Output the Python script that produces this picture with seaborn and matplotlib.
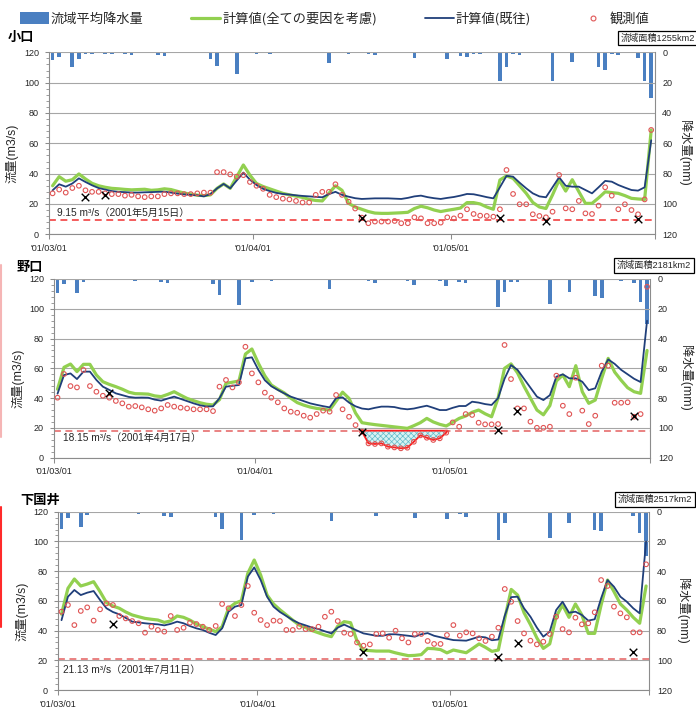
import numpy as np
import pandas as pd
import matplotlib
matplotlib.use("Agg")
import matplotlib.pyplot as plt
import matplotlib.transforms as mtransforms
from matplotlib.lines import Line2D
from matplotlib.patches import Patch
from matplotlib.ticker import MultipleLocator
import seaborn as sns

sns.set_style("white")
plt.rcParams['font.family'] = ['Liberation Sans', 'Noto Sans CJK JP', 'DejaVu Sans']
plt.rcParams['hatch.linewidth'] = 0.5
JP = ['Noto Sans CJK JP', 'DejaVu Sans']

# ---------------- data ----------------
start = pd.Timestamp('2001-03-01')
dates = pd.date_range(start, '2001-05-31', freq='D')
tick_dates = ['2001-03-01', '2001-04-01', '2001-05-01']
tick_labels = ["'01/03/01", "'01/04/01", "'01/05/01"]
legend_labels = ['流域平均降水量', '計算値(全ての要因を考慮)', '計算値(既往)', '観測値']

# 小口
rain_koguchi = [5, 3, 0, 10, 4.4, 1, 1, 0.5, 1, 1,
                0, 1, 2, 0, 0.7, 0, 2, 2.4, 0, 0,
                0, 0.5, 0, 0, 4.4, 9, 0.7, 0, 14.5, 0.5,
                0, 1, 0, 1, 0, 0, 0, 0, 0, 0,
                0, 0, 7.3, 0.5, 0, 1, 0, 0, 1, 1.8,
                0, 0, 0, 0, 0.5, 4, 0, 0, 0, 0.5,
                4.6, 0, 2.4, 2.9, 1, 1, 0, 0.5, 18.7, 10,
                1, 1.5, 0, 0, 0, 0.5, 18.7, 0.5, 0.5, 6.2,
                0, 0, 0.5, 10, 11.6, 1, 1.5, 0.5, 0, 4,
                18.7, 30.3]
calc_all_koguchi = [32, 38, 35, 36, 39.8, 36.5, 33.6, 32, 31, 30.3,
                    30, 29.6, 29.3, 29.5, 29.7, 29, 29.3, 30, 29.5, 28.3,
                    27.2, 26.5, 25.8, 25.5, 26, 30.3, 33.2, 30.3, 38, 45.7,
                    39, 33.5, 31.5, 30, 28.5, 27, 26, 25.2, 24.3, 23,
                    22.3, 22, 27, 32, 29, 20.4, 18, 16.5, 15, 14,
                    13.8, 13.8, 14, 14.2, 14.5, 17, 18.5, 17.5, 16, 15,
                    15.8, 16.5, 17.3, 20.9, 20.9, 20, 18, 16.5, 35.8, 38.5,
                    36.9, 32, 27, 21, 18, 17, 26, 35.8, 28.5, 36,
                    28.1, 20.4, 20.4, 24, 28, 27.5, 27, 25.5, 23.7, 23.3,
                    23, 68.8]
calc_old_koguchi = [29, 33, 31.4, 33.5, 36.9, 34.5, 32.3, 30.5, 29.5, 28.5,
                    28, 27.8, 27.5, 27.5, 27.7, 27.8, 28, 28.1, 27.5, 26.8,
                    26.3, 26, 25.7, 25, 26.5, 30.3, 33.2, 30.3, 35.5, 40.7,
                    36, 32.5, 30, 28.5, 27.3, 26.6, 26.2, 25.7, 25.3, 25,
                    24.7, 24.4, 26.5, 28, 26, 24.8, 23.8, 23.3, 23.5, 23.7,
                    23.7, 23.7, 23.5, 23.3, 24, 25, 25.5, 24.5, 23.8, 23.3,
                    24, 24.6, 25.5, 26.6, 26.4, 25.5, 24.5, 23.7, 31, 38.5,
                    38, 34, 30.3, 27, 25, 24.4, 31, 37.6, 32, 31.4,
                    31.4, 29.2, 27, 31, 35.2, 34.7, 32.5, 30.8, 29.2, 28.8,
                    31, 62]
obs_koguchi = [27, 29.5, 27.5, 30.5, 32, 29, 28, 28, 27, 26.5,
               26.5, 25.5, 26, 25, 24.5, 25, 25, 26.5, 27, 27,
               26.5, 26.5, 27, 27.5, 27.5, 41, 41, 39.5, 38, 39,
               34.5, 32, 30, 26, 24.5, 23.5, 23, 22, 21, 21,
               26, 28, 28, 33, 26, 21.5, 17, 11, 7.3, 8.4,
               8.4, 8.4, 8.8, 7.3, 7.3, 11.2, 10.5, 7.3, 7.3, 7.7,
               11.2, 10.5, 12.3, 16.5, 13.4, 12.3, 12.1, 11.6, 16.5, 42.4,
               26.6, 19.8, 19.8, 13.2, 12.1, 11.2, 14.9, 39.1, 17.1, 16.5,
               22, 13.8, 13.4, 18.9, 31, 25.5, 16.5, 19.8, 16, 13.2,
               23, 68.8]
cross_day_koguchi = [5, 8, 47, 68, 75, 89]
cross_val_koguchi = [24.8, 25.9, 11, 11, 8.8, 10.1]
thr_koguchi = 9.15

# 野口
rain_noguchi = [9.6, 3.6, 0.7, 9.6, 2.2, 0.7, 0.5, 0.7, 0.5, 0.5,
                0, 0.7, 1.3, 0, 0.5, 0, 2.2, 2.7, 0, 0,
                0, 0.5, 0, 0, 3.4, 10.5, 0.5, 0, 17.5, 0.5,
                1.8, 0.5, 0, 1.1, 0, 0, 0, 0, 0, 0,
                0, 0, 6.7, 0.7, 0, 0.7, 0, 0, 1.1, 2.5,
                0, 0, 0.7, 0, 1.1, 4, 0, 0, 0, 1.1,
                4.5, 0, 2.2, 2.9, 0.7, 0.7, 0, 0.7, 19, 8.5,
                1.8, 1.8, 0.7, 0, 0, 0.7, 16.8, 0.7, 0.7, 8.5,
                0.7, 0, 0.7, 11.4, 12.5, 0.7, 0.7, 1.1, 0.7, 2.9,
                15.2, 30.2]
calc_all_noguchi = [46, 60.7, 62.9, 57.8, 62.7, 62.7, 55.5, 51, 49.2, 47.7,
                    46, 44, 43, 42.9, 42.7, 41.5, 41, 42.5, 44.3, 42,
                    39.8, 38.3, 36.9, 35.9, 35.4, 39, 49.9, 50.7, 51.5, 69.6,
                    73, 63.4, 55, 48.8, 46, 43.5, 40, 37, 35.3, 34,
                    33.1, 32.6, 32, 38, 44, 39.8, 30, 23.5, 22.8, 22.2,
                    21.7, 21.2, 20.7, 20.2, 19.7, 21.5, 23.5, 26.4, 24, 22.4,
                    21.3, 23.8, 26.4, 28, 30.5, 32, 29.5, 27.5, 40, 60,
                    63, 57, 48, 40, 32, 28.8, 35, 51.5, 55.5, 47.7,
                    61.8, 44.3, 36.5, 38.7, 53.3, 66.7, 57.5, 52, 47, 44.3,
                    43.2, 72]
calc_old_noguchi = [43, 55.5, 56.6, 52.8, 57.8, 57.8, 52.2, 47.7, 45.5, 43.2,
                    42, 40.8, 40.3, 40.4, 40.3, 39, 38.3, 39.7, 41, 39.5,
                    38, 36.5, 35.2, 34.4, 34.5, 40, 47.7, 48.3, 48.8, 66.7,
                    67.4, 59, 52, 48, 45.5, 43.2, 41, 39.5, 38, 36.5,
                    35.5, 34.6, 33.8, 40, 40.5, 37, 34.5, 33, 32.5, 33.5,
                    34.3, 34.3, 34, 33, 32.5, 33, 34, 34.9, 33.5, 32,
                    32, 33.5, 34.7, 34.7, 37.6, 37, 36, 35.4, 40, 53,
                    62.2, 59, 53, 47, 41, 38.7, 42, 54.4, 56, 53.3,
                    53.3, 51, 45.4, 46.6, 57.8, 66, 63, 59, 56, 53,
                    50.8, 92]
obs_noguchi = [40.3, 56.2, 48.1, 47.2, 58.9, 48.1, 44.3, 41.6, 40.3, 38.1,
               36.5, 34.3, 34.7, 33.8, 32.5, 31.6, 33.1, 35.4, 34.3, 33.6,
               33.1, 32.5, 32.5, 32.5, 31.3, 47.7, 52.2, 47.2, 50.6, 74.5,
               56.6, 50.6, 43.7, 40.3, 37.2, 33.1, 30.9, 30.2, 28.2, 26.9,
               29.3, 31.6, 30.9, 42.1, 32.5, 27.5, 21.9, 17.5, 9.6, 9.2,
               9.6, 7.4, 6.9, 6.3, 6.7, 10.7, 15, 13.4, 11.9, 13,
               16.8, 23.7, 20.8, 29.3, 28.7, 23.5, 22.4, 22.4, 22.6, 75.7,
               52.8, 33.1, 33.1, 24.2, 20.1, 20.1, 20.8, 55.1, 34.9, 29.3,
               53.7, 31.6, 22.6, 28.2, 61.8, 61.8, 36.9, 36.9, 37.2, 27.5,
               29.3, 114.8]
cross_day_noguchi = [8, 47, 68, 71, 89]
cross_val_noguchi = [43.2, 17.5, 18.6, 31.3, 28.2]
thr_noguchi = 18.15

# 下国井
rain_shimo = [11.9, 4, 0.7, 10.5, 2.5, 1.1, 1.1, 1.1, 1.1, 0.7,
              0, 1.1, 1.8, 0, 0.7, 0, 2.7, 3.4, 0, 0,
              0, 0.7, 0, 0, 3.8, 11.9, 0.7, 0, 19, 0.5,
              2.5, 0.7, 0, 1.8, 0, 0, 0, 0, 0, 0,
              0, 0, 6, 0.7, 0, 0.7, 0, 0, 0.7, 2.7,
              0, 0, 0.7, 0, 0.7, 4, 0, 0, 0, 0.7,
              5.2, 0, 1.8, 3.4, 1.1, 1.1, 0, 1.1, 19, 7.9,
              1.1, 1.1, 0.7, 0, 0, 0.7, 17.9, 0.7, 0.7, 7.9,
              0.7, 0, 0.7, 12.3, 12.8, 0.7, 0.7, 1.1, 0.7, 2.9,
              14.6, 29.8]
calc_all_shimo = [51, 68.4, 74.7, 70, 71.3, 72.9, 66.2, 58.8, 56.5, 55,
                  52.5, 50.5, 49.3, 48.2, 47.6, 47.1, 45.5, 46.5, 49.8, 48.9,
                  47, 44.5, 42.6, 41, 39.3, 42.6, 55, 58.3, 60.1, 78.5,
                  87.5, 77.4, 63.9, 57.9, 54, 50.5, 47, 43.7, 42, 40,
                  38.5, 37, 35.9, 43, 46, 45.3, 33, 26.9, 26.5, 26.2,
                  26.2, 26.2, 25, 24, 23.1, 23.3, 23.8, 28, 27.8, 27.2,
                  25, 26.9, 26, 25.1, 28, 31, 28.7, 26, 26.9, 48,
                  67.7, 63.9, 52, 44, 35, 28, 31, 49.3, 57.2, 48.9,
                  57.9, 50.5, 38.1, 38.1, 57.2, 74, 66.2, 57.9, 53.8, 48.9,
                  44.9, 70]
calc_old_shimo = [47, 62.8, 67.3, 63.9, 65.5, 66.6, 60.6, 55, 52.5, 50.9,
                  48.5, 46, 45.5, 44.9, 44.5, 44.2, 43.5, 44.5, 46, 44.9,
                  43, 41.5, 40.4, 38.5, 37, 41.5, 52.7, 56.1, 57.2, 76.3,
                  82.5, 74, 62.8, 56.1, 52.5, 49.8, 47, 44.9, 43.5, 42,
                  41, 39.5, 38.1, 42, 44, 42, 40, 38.1, 37.3, 36.5,
                  36.5, 37.5, 37.5, 37, 36.5, 35.9, 37.5, 38.3, 36.5, 35.5,
                  34.5, 33.6, 33.4, 33.2, 34.5, 35.9, 35.4, 33.5, 34, 50,
                  62.5, 62.8, 55, 49.3, 42, 35.9, 39.3, 53.8, 59.4, 52,
                  52.7, 50.5, 46.7, 47.6, 61.7, 74, 69.5, 62.8, 59.4, 55,
                  51.6, 100]
obs_shimo = [52.7, 57.2, 43.7, 53.2, 55.6, 46.7, 54.3, 58.3, 57.2, 49.8,
             48.2, 46.4, 44.9, 38.6, 42.6, 40.4, 39.3, 49.8, 40.4, 41.9,
             45.3, 44.4, 42.6, 40.4, 43.1, 57.9, 55, 49.8, 57.2, 70,
             52, 47.1, 43.7, 46.7, 46.4, 40.4, 40.4, 42.6, 41, 41,
             42.6, 49.3, 52.7, 46.4, 38.6, 37.7, 32, 29.8, 30.7, 37.7,
             38.1, 35.2, 39.9, 34.8, 32, 37.7, 37.7, 33, 31, 31,
             37, 43.7, 36.6, 38.8, 38.1, 34.8, 33, 35.9, 41.9, 68,
             59.4, 46.4, 38.1, 33.2, 30.7, 32.5, 37.7, 49.3, 41, 38.8,
             48.7, 44.2, 44.9, 52.3, 74, 70, 56.1, 51.6, 48.9, 38.8,
             38.8, 84.6]
cross_day_shimo = [8, 47, 68, 71, 89]
cross_val_shimo = [44.4, 25.8, 22, 31.4, 25.8]
thr_shimo = 21.13

# ---------------- style ----------------
BAR = '#4a7fc1'
GREEN = '#92d050'
BLUE = '#203f7a'
RED_O = '#e05555'
SPINE = '#8c8c8c'
GRID = '#a6a6a6'
TXT = '#262626'

days = np.asarray((dates - start).days)
tick_pos = [(pd.Timestamp(t) - start).days - 0.5 for t in tick_dates] + [len(dates) - 0.5]

fig = plt.figure(figsize=(6.96, 7.09), dpi=100)
fig.patch.set_facecolor('white')


def panel(rect, rain, green, blue, obs, cdays, cvals, thr, thr_text, thr_y, thr_x,
          thr_color, ylab_x, ylab_y, rlab_x, hatch=False):
    ax = fig.add_axes(rect)
    ax_r = ax.twinx()
    ax_r.set_zorder(ax.get_zorder() - 1)
    ax.patch.set_visible(False)
    ax_r.patch.set_visible(True)
    ax_r.patch.set_facecolor('white')

    df = pd.DataFrame({'day': days, 'rain': rain, 'green': green,
                       'blue': blue, 'obs': obs})
    sns.barplot(data=df, x='day', y='rain', native_scale=True, width=0.56,
                color=BAR, saturation=1, errorbar=None, linewidth=0,
                orient='x', ax=ax_r)

    # threshold
    ax.axhline(thr, color=thr_color, lw=1.1, ls=(0, (4.5, 3)), zorder=2)
    if hatch:
        o = df['obs'].to_numpy()
        ax.fill_between(days, o, thr, where=o < thr, interpolate=True,
                        facecolor='#d8f2f2', edgecolor='#62bccb', hatch='xxxxxx',
                        linewidth=0, zorder=2)
        ax.fill_between(days, o, thr, where=o < thr, interpolate=True,
                        facecolor='none', edgecolor='#ff2020', linewidth=1.3,
                        zorder=2.5)

    sns.lineplot(data=df, x='day', y='green', color=GREEN, linewidth=2.3,
                 estimator=None, legend=False, ax=ax, zorder=3)
    sns.lineplot(data=df, x='day', y='blue', color=BLUE, linewidth=1.3,
                 estimator=None, legend=False, ax=ax, zorder=4)
    sns.scatterplot(data=df, x='day', y='obs', s=11, facecolors='none',
                    edgecolor=RED_O, linewidth=0.8, legend=False, ax=ax, zorder=5)
    sns.scatterplot(x=cdays, y=cvals, marker='x', s=30, color='black',
                    linewidth=1.0, legend=False, ax=ax, zorder=6)

    tr = mtransforms.blended_transform_factory(ax.transAxes, ax.transData)
    ax.text(thr_x, thr_y, thr_text, transform=tr, fontsize=7.3, va='center',
            ha='left', color=TXT)

    # axes
    ax.set_xlim(-0.5, len(dates) - 0.5)
    ax.set_ylim(0, 120)
    ax.set_yticks(np.arange(0, 121, 20))
    ax.yaxis.set_minor_locator(MultipleLocator(4))
    ax.set_xticks(tick_pos)
    ax.set_xticklabels(tick_labels + [''])
    ax.grid(axis='y', color=GRID, lw=0.8)
    ax.grid(axis='x', visible=False)
    ax.set_axisbelow(True)
    for s in ['top', 'right']:
        ax.spines[s].set_visible(False)
    for s in ['left', 'bottom']:
        ax.spines[s].set_color(SPINE)
        ax.spines[s].set_linewidth(0.8)
    ax.tick_params(axis='y', which='major', left=True, length=3, width=0.75,
                   color=SPINE, labelsize=6.5, pad=4.5, labelcolor=TXT)
    ax.tick_params(axis='y', which='minor', left=True, length=2, width=0.6,
                   color=SPINE)
    ax.tick_params(axis='x', bottom=True, length=3.5, width=0.75, color=SPINE,
                   labelsize=6.5, pad=3.5, labelcolor=TXT)
    ax.set_xlabel('')
    ax.set_ylabel('流量(m3/s)', fontsize=8.8, color=TXT)
    ax.yaxis.set_label_coords(ylab_x, ylab_y)

    ax_r.set_ylim(120, 0)
    ax_r.set_yticks(np.arange(0, 121, 20))
    ax_r.set_xlim(-0.5, len(dates) - 0.5)
    for s in ['top', 'left', 'bottom']:
        ax_r.spines[s].set_visible(False)
    ax_r.spines['right'].set_color(SPINE)
    ax_r.spines['right'].set_linewidth(0.8)
    ax_r.tick_params(axis='y', right=True, labelright=True, left=False,
                     labelleft=False, length=0, labelsize=6.5, pad=5.5,
                     labelcolor=TXT)
    ax_r.set_xlabel('')
    ax_r.set_ylabel('降水量(mm)', fontsize=8.8, color=TXT, rotation=270,
                    va='bottom')
    ax_r.yaxis.set_label_coords(rlab_x, ylab_y)
    return ax


panel([49.3 / 696, 1 - 234.3 / 709, 605.2 / 696, 182 / 709],
      rain_koguchi, calc_all_koguchi, calc_old_koguchi, obs_koguchi,
      cross_day_koguchi, cross_val_koguchi, thr_koguchi,
      '9.15 m³/s（2001年5月15日）', 14.2, 0.013, '#f03030',
      -0.051, 0.447, 1.039)
panel([54.3 / 696, 1 - 457.7 / 709, 596 / 696, 178.7 / 709],
      rain_noguchi, calc_all_noguchi, calc_old_noguchi, obs_noguchi,
      cross_day_noguchi, cross_val_noguchi, thr_noguchi,
      '18.15 m³/s（2001年4月17日）', 13.2, 0.0146, '#e46060',
      -0.050, 0.446, 1.048, hatch=True)
panel([58.3 / 696, 1 - 690 / 709, 591 / 696, 178.3 / 709],
      rain_shimo, calc_all_shimo, calc_old_shimo, obs_shimo,
      cross_day_shimo, cross_val_shimo, thr_shimo,
      '21.13 m³/s（2001年7月11日）', 13.5, 0.008, '#e46060',
      -0.0504, 0.443, 1.046)

# titles
for name, x, y in [('小口', 8, 37), ('野口', 17, 267), ('下国井', 20, 500)]:
    fig.text(x / 696, 1 - y / 709, name, fontsize=9.5, fontweight='bold',
             family=JP, va='center', ha='left', color='black')

# catchment area boxes
for txt, x, y in [('流域面積1255km2', 621, 38), ('流域面積2181km2', 617, 265.5),
                  ('流域面積2517km2', 618, 499.5)]:
    fig.text(x / 696, 1 - y / 709, txt, fontsize=6.6, va='center', ha='left',
             color=TXT,
             bbox=dict(boxstyle='square,pad=0.3', fc='white', ec='black', lw=0.9))

# legend
handles = [Patch(facecolor=BAR, edgecolor='none'),
           Line2D([], [], color=GREEN, lw=2.3),
           Line2D([], [], color=BLUE, lw=1.3),
           Line2D([], [], marker='o', ls='none', mfc='none', mec=RED_O,
                  ms=3.5, mew=0.8)]
fig.legend(handles, legend_labels, loc='center left',
           bbox_to_anchor=(20 / 696, 1 - 19 / 709), ncol=4, frameon=False,
           prop={'family': JP, 'size': 9.5}, handlelength=2.2,
           handleheight=1.0, handletextpad=0.15, columnspacing=3.6,
           borderpad=0, borderaxespad=0)

# page-edge markers
fig.add_artist(Line2D([0.0015, 0.0015], [1 - 265 / 709, 1 - 437 / 709],
                      color='#f5b5b5', lw=1.5))
fig.add_artist(Line2D([0.001, 0.001], [1 - 507 / 709, 1 - 627 / 709],
                      color='#ff2a2a', lw=1.5))

fig.savefig('out.png', dpi=100, facecolor='white')
